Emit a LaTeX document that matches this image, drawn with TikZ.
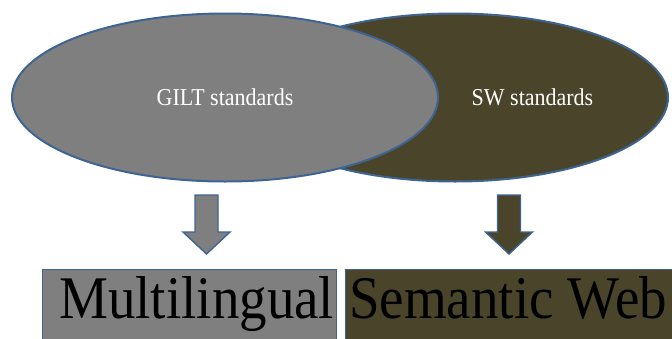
\documentclass[tikz,border=0pt]{standalone}
\usepackage{fontspec}
\setmainfont{Liberation Serif}
\usetikzlibrary{positioning,shapes.geometric}
\definecolor{GILTgray}{HTML}{7F7F7F}
\definecolor{SWolive}{HTML}{4A452A}
\definecolor{rimblue}{HTML}{3E6494}
\newcommand{\tallish}[1]{\scalebox{1}[1.1]{#1}}

\begin{document}
\begin{tikzpicture}[x=1pt,y=-1pt,
    oval/.style={ellipse,draw=rimblue,line width=2pt,minimum width=426pt,minimum height=168pt,inner sep=0pt},
    stdlabel/.style={anchor=base,text=white,font=\fontsize{22}{26}\selectfont},
    fieldbox/.style={rectangle,draw=rimblue,line width=1.4pt,anchor=north west,minimum height=100pt,inner sep=0pt},
    fieldlabel/.style={anchor=base west,inner sep=0pt,font=\fontsize{55}{60}\selectfont},
    blockarrow/.style={draw=rimblue,line width=1.4pt,line join=miter}]
  \clip (0,0) rectangle (672,338);

  % standards
  \node[oval,fill=SWolive] (sw) at (455,97.5) {};
  \node[oval,fill=GILTgray] (gilt) at (225,97.5) {};
  \node[stdlabel] (giltlab) at (225,105) {\tallish{GILT standards}};
  \node[stdlabel] (swlab) at (532.5,105) {\tallish{SW standards}};

  % arrows down
  \foreach \cx/\col/\nm in {206.5/GILTgray/garrow,509/SWolive/sarrow}{
    \coordinate (\nm) at (\cx,195);
    \draw[blockarrow,fill=\col] (\nm) ++(-11.5,0) -- ++(23,0) -- ++(0,37) -- ++(12,0)
      -- ++(-23.5,22) -- ++(-23.5,-22) -- ++(12,0) -- cycle;
  }

  % fields
  \node[fieldbox,fill=GILTgray,minimum width=294pt] (multibox) at (42,269) {};
  \node[fieldbox,fill=SWolive,minimum width=340pt] (swbox) at (345,269) {};
  \node[fieldlabel] (multilab) at (59,318) {\tallish{Multilingual}};
  \node[fieldlabel] (semlab) at (349,318) {\tallish{Semantic Web}};
\end{tikzpicture}
\end{document}
